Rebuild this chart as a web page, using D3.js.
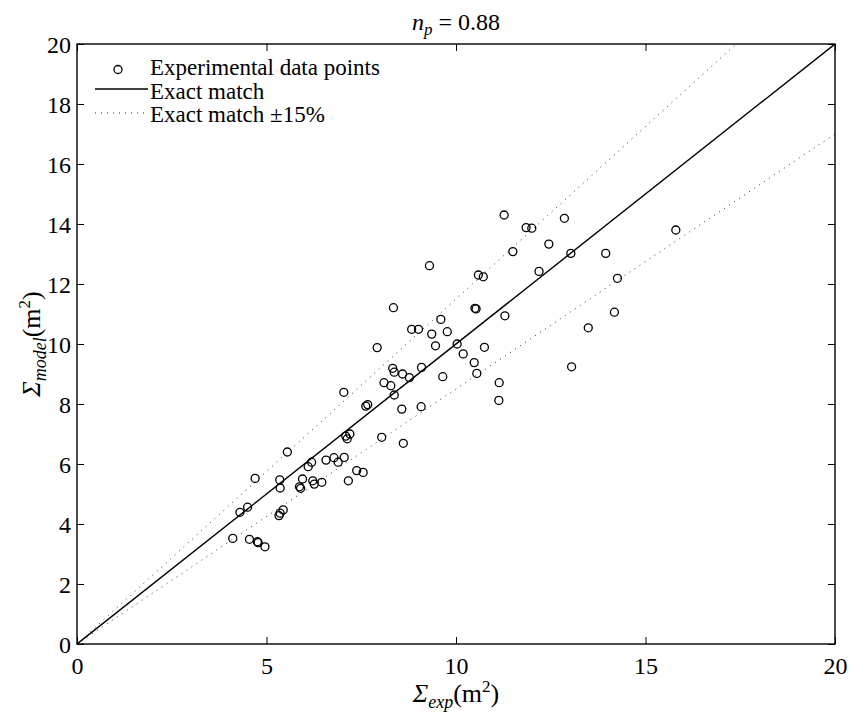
<!DOCTYPE html>
<html>
<head>
<meta charset="utf-8">
<script src="https://cdn.jsdelivr.net/npm/d3@7"></script>
<style>
  body { margin: 0; background: #fff; }
  svg { display: block; }
  svg text { font-family: "Liberation Serif", "Times New Roman", Tinos, "DejaVu Serif", "Noto Serif", FreeSerif, serif; }
</style>
</head>
<body>
<svg id="chart" width="851" height="713"></svg>
<script>
// ---- data ----
const expValues = [4.11,4.55,4.76,4.78,4.96,4.30,4.50,5.36,5.44,5.33,4.70,5.36,5.87,5.90,5.95,6.22,6.26,6.46,7.16,5.35,
  5.55,6.19,6.10,6.57,6.78,6.89,7.05,7.38,7.55,7.09,7.20,7.13,8.04,8.61,7.04,7.62,7.67,8.57,9.08,7.92,
  8.10,8.28,8.37,8.33,8.37,8.59,8.77,9.09,9.65,9.36,9.77,9.46,10.03,10.19,8.83,9.01,9.60,11.27,11.85,12.00,
  12.86,12.45,11.50,13.03,13.95,9.30,10.59,10.72,12.19,14.26,10.50,10.53,11.29,14.18,13.49,10.75,10.48,10.55,13.05,11.14,
  11.13,15.80,8.35];
const modelValues = [3.52,3.49,3.41,3.38,3.24,4.39,4.56,4.36,4.47,4.28,5.52,5.20,5.24,5.19,5.50,5.44,5.33,5.39,5.44,5.47,
  6.40,6.06,5.91,6.13,6.21,6.06,6.22,5.78,5.72,6.93,7.00,6.84,6.89,6.69,8.39,7.93,7.98,7.83,7.91,9.88,
  8.71,8.61,8.30,9.19,9.06,9.00,8.88,9.22,8.91,10.33,10.41,9.94,10.00,9.67,10.49,10.49,10.82,14.30,13.88,13.86,
  14.19,13.33,13.08,13.02,13.02,12.61,12.30,12.24,12.42,12.19,11.19,11.17,10.94,11.06,10.54,9.89,9.38,9.02,9.24,8.71,
  8.12,13.80,11.21];
const xTicks = [0, 5, 10, 15, 20];
const yTicks = [0, 2, 4, 6, 8, 10, 12, 14, 16, 18, 20];
const lineFactors = [1, 1.15, 0.85];
const legendLabels = ["Experimental data points", "Exact match", "Exact match \u00B115%"];

// ---- layout ----
const FONT = '"Liberation Serif", "Times New Roman", Tinos, "DejaVu Serif", "Noto Serif", FreeSerif, serif';
const svg = d3.select("#chart");
const L = 77, R = 835, T = 44, B = 644;
const x = d3.scaleLinear().domain([0, 20]).range([L, R]);
const y = d3.scaleLinear().domain([0, 20]).range([B, T]);
const tickLen = 7;

svg.append("clipPath").attr("id", "clip")
  .append("rect").attr("x", L).attr("y", T).attr("width", R - L).attr("height", B - T);
const plot = svg.append("g").attr("clip-path", "url(#clip)");

// reference lines
lineFactors.forEach((f, i) => {
  const x1 = Math.min(20, 20 / f);
  plot.append("line")
    .attr("x1", x(0)).attr("y1", y(0))
    .attr("x2", x(x1)).attr("y2", y(x1 * f))
    .attr("stroke", i === 0 ? "#000" : "#333")
    .attr("stroke-width", i === 0 ? 1.4 : 1)
    .attr("stroke-dasharray", i === 0 ? null : "1,5");
});

// points
const pts = expValues.map((v, i) => ({ x: v, y: modelValues[i] }));
plot.selectAll("circle.pt").data(pts).enter().append("circle")
  .attr("class", "pt")
  .attr("cx", d => x(d.x)).attr("cy", d => y(d.y)).attr("r", 4)
  .attr("fill", "none").attr("stroke", "#000").attr("stroke-width", 1.3);

// axes
const fontSize = 24;
const axB = svg.append("g").attr("transform", `translate(0,${B})`)
  .call(d3.axisBottom(x).tickValues(xTicks).tickSizeInner(-tickLen).tickSizeOuter(0).tickPadding(13));
const axT = svg.append("g").attr("transform", `translate(0,${T})`)
  .call(d3.axisTop(x).tickValues(xTicks).tickSizeInner(-tickLen).tickSizeOuter(0).tickFormat(""));
const axL = svg.append("g").attr("transform", `translate(${L},0)`)
  .call(d3.axisLeft(y).tickValues(yTicks).tickSizeInner(-tickLen).tickSizeOuter(0).tickPadding(6));
const axR = svg.append("g").attr("transform", `translate(${R},0)`)
  .call(d3.axisRight(y).tickValues(yTicks).tickSizeInner(-tickLen).tickSizeOuter(0).tickFormat(""));
[axB, axT, axL, axR].forEach(a => {
  a.attr("font-family", FONT).attr("font-size", fontSize);
  a.select(".domain").remove();
  a.selectAll(".tick line").attr("stroke", "#000").attr("stroke-width", 1);
  a.selectAll(".tick text").attr("fill", "#000");
});
axB.selectAll(".tick text").attr("dy", "0.71em");
axL.selectAll(".tick text").attr("dy", "0.36em");

// frame
svg.append("rect").attr("x", L).attr("y", T).attr("width", R - L).attr("height", B - T)
  .attr("fill", "none").attr("stroke", "#000").attr("stroke-width", 1.4);

// title
const title = svg.append("text").attr("x", (L + R) / 2).attr("y", 30)
  .attr("text-anchor", "middle").attr("font-family", FONT).attr("font-size", 24);
title.append("tspan").attr("font-style", "italic").text("n");
title.append("tspan").attr("font-style", "italic").attr("dy", 5).attr("font-size", 17).text("p");
title.append("tspan").attr("dy", -5).text(" = 0.88");

// x label
const xl = svg.append("text").attr("x", (L + R) / 2).attr("y", 702)
  .attr("text-anchor", "middle").attr("font-family", FONT).attr("font-size", 26);
xl.append("tspan").attr("font-style", "italic").text("\u03A3");
xl.append("tspan").attr("font-style", "italic").attr("dy", 6).attr("font-size", 18).text("exp");
xl.append("tspan").attr("dy", -6).text("(m");
xl.append("tspan").attr("dy", -10).attr("font-size", 17).text("2");
xl.append("tspan").attr("dy", 10).text(")");

// y label
const yl = svg.append("text")
  .attr("transform", `translate(40,${(T + B) / 2}) rotate(-90)`)
  .attr("text-anchor", "middle").attr("font-family", FONT).attr("font-size", 26);
yl.append("tspan").attr("font-style", "italic").text("\u03A3");
yl.append("tspan").attr("font-style", "italic").attr("dy", 6).attr("font-size", 18).text("model");
yl.append("tspan").attr("dy", -6).text("(m");
yl.append("tspan").attr("dy", -10).attr("font-size", 17).text("2");
yl.append("tspan").attr("dy", 10).text(")");

// legend
const lg = svg.append("g");
const rowsY = [75, 99, 122];
lg.append("circle").attr("cx", 118).attr("cy", 69.5).attr("r", 4)
  .attr("fill", "none").attr("stroke", "#000").attr("stroke-width", 1.3);
lg.append("line").attr("x1", 95).attr("x2", 148).attr("y1", 89).attr("y2", 89)
  .attr("stroke", "#000").attr("stroke-width", 1.4);
lg.append("line").attr("x1", 95).attr("x2", 148).attr("y1", 113).attr("y2", 113)
  .attr("stroke", "#333").attr("stroke-width", 1).attr("stroke-dasharray", "1,5");
legendLabels.forEach((t, i) => {
  lg.append("text").attr("x", 150).attr("y", rowsY[i])
    .attr("font-family", FONT).attr("font-size", 23).text(t);
});
</script>
</body>
</html>
